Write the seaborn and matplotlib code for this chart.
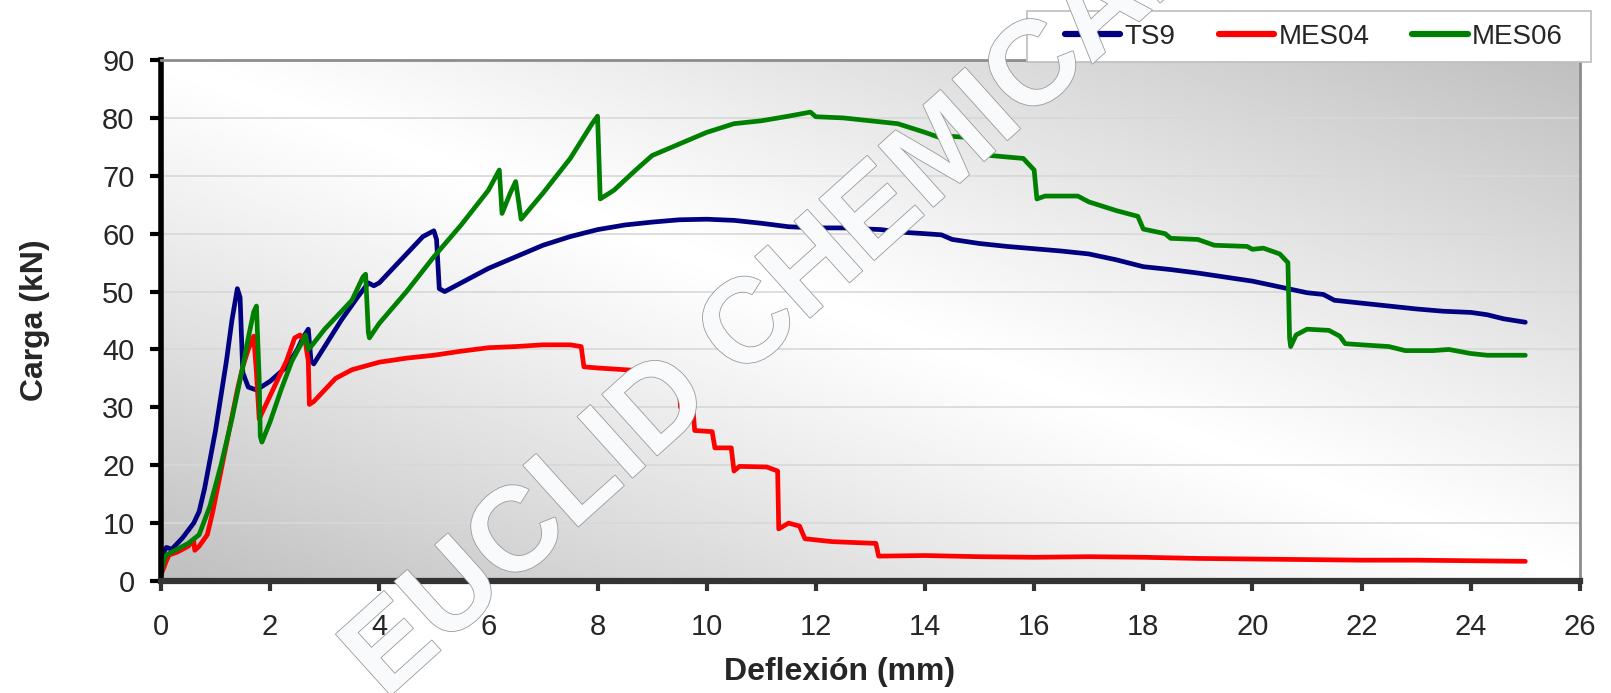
import numpy as np
import pandas as pd
import matplotlib
matplotlib.use("Agg")
import matplotlib.pyplot as plt
import matplotlib.patheffects as pe
from matplotlib.patches import Rectangle
import seaborn as sns

# ---------------- data ----------------
ts9_x = [0, 0.05, 0.1, 0.2, 0.4, 0.6, 0.7, 0.8, 0.9, 1.0, 1.1, 1.2, 1.3, 1.4, 1.45, 1.5, 1.6, 1.75,
         2.0, 2.3, 2.5, 2.6, 2.7, 2.75, 2.8, 3.0, 3.3, 3.6, 3.8, 3.9, 4.0, 4.2, 4.5, 4.8, 5.0, 5.05,
         5.1, 5.2, 5.5, 6.0, 6.5, 7.0, 7.5, 8.0, 8.5, 9.0, 9.5, 10.0, 10.5, 11.0, 11.5, 12.0, 12.5,
         13.2, 13.5, 14.0, 14.3, 14.5, 15.0, 15.5, 16.0, 16.5, 17.0, 17.5, 18.0, 18.5, 19.0, 19.5,
         20.0, 20.5, 21.0, 21.3, 21.5, 22.0, 22.5, 23.0, 23.5, 24.0, 24.3, 24.6, 25.0]
ts9_y = [1, 5, 5.8, 5.5, 7.5, 10, 12, 16, 21, 26, 32, 38, 45, 50.5, 49, 36, 33.5, 33,
         34.5, 37, 40, 42, 43.5, 38, 37.5, 40.5, 45, 49, 51.5, 51, 51.5, 53.5, 56.5, 59.5, 60.5, 59,
         50.5, 50, 51.5, 54, 56, 58, 59.5, 60.7, 61.5, 62, 62.4, 62.5, 62.3, 61.8, 61.2, 61, 61,
         60.7, 60.3, 60, 59.8, 59, 58.3, 57.8, 57.4, 57, 56.5, 55.5, 54.3, 53.8, 53.2, 52.5,
         51.8, 50.8, 49.8, 49.5, 48.5, 48, 47.5, 47, 46.6, 46.4, 46, 45.3, 44.7]

mes04_x = [0, 0.1, 0.15, 0.3, 0.5, 0.6, 0.62, 0.7, 0.85, 0.95, 1.1, 1.25, 1.4, 1.5, 1.6, 1.7, 1.75,
           1.8, 1.9, 2.1, 2.3, 2.45, 2.55, 2.65, 2.7, 2.72, 2.8, 3.0, 3.2, 3.5, 4.0, 4.5, 5.0, 5.5,
           6.0, 6.5, 7.0, 7.5, 7.7, 7.75, 8.0, 8.5, 9.0, 9.2, 9.45, 9.5, 9.52, 9.75, 9.78, 10.1,
           10.15, 10.45, 10.5, 10.6, 11.1, 11.3, 11.32, 11.5, 11.7, 11.8, 12.3, 13.1, 13.15, 14, 15,
           16, 17, 18, 19, 20, 21, 22, 23, 24, 25]
mes04_y = [1, 3.5, 4.5, 5, 6, 7, 5.3, 6, 8, 12, 19, 26, 33, 37, 40, 42.3, 36,
           28, 30, 34, 38, 42, 42.5, 41, 38, 30.5, 31, 33, 35, 36.5, 37.8, 38.5, 39, 39.7,
           40.3, 40.5, 40.8, 40.8, 40.5, 37, 36.8, 36.5, 36.2, 35.5, 34.5, 33, 30, 29.5, 26, 25.8,
           23, 23, 19, 19.8, 19.7, 19, 9, 10, 9.5, 7.3, 6.8, 6.5, 4.3, 4.4, 4.2,
           4.1, 4.2, 4.1, 3.9, 3.8, 3.7, 3.6, 3.6, 3.5, 3.4]

mes06_x = [0, 0.05, 0.1, 0.3, 0.5, 0.7, 0.9, 1.1, 1.3, 1.5, 1.6, 1.7, 1.75, 1.8, 1.82, 1.85, 2.0,
           2.2, 2.4, 2.6, 2.65, 2.7, 2.75, 3.0, 3.3, 3.5, 3.7, 3.75, 3.8, 3.82, 4.0, 4.5, 5.0, 5.5,
           6.0, 6.2, 6.25, 6.4, 6.5, 6.6, 7.0, 7.5, 7.9, 8.0, 8.05, 8.3, 8.7, 9.0, 9.5, 10.0, 10.5,
           11.0, 11.5, 11.9, 12.0, 12.5, 13.0, 13.5, 14.0, 14.3, 14.5, 15.0, 15.2, 15.8, 16.0, 16.05,
           16.2, 16.8, 17.0, 17.5, 17.9, 18.0, 18.4, 18.5, 19.0, 19.3, 19.9, 20.0, 20.2, 20.5, 20.65,
           20.68, 20.7, 20.8, 21.0, 21.4, 21.6, 21.7, 22.0, 22.5, 22.8, 23.3, 23.6, 24.0, 24.3, 25.0]
mes06_y = [1, 3.5, 4.5, 5.5, 6.5, 8, 13, 20, 28, 37, 42, 46.5, 47.5, 35, 25, 24, 27.5,
           33, 38, 41.5, 42.5, 40, 40.5, 43.5, 46.5, 48.5, 52.5, 53, 43, 42, 44.5, 50, 56, 61.5,
           67.5, 71, 63.5, 67, 69, 62.5, 67, 73, 79, 80.3, 66, 67.5, 71, 73.5, 75.5, 77.5, 79,
           79.5, 80.3, 81, 80.2, 80, 79.5, 79, 77.5, 76.5, 76.8, 76.5, 73.5, 73, 71, 66,
           66.5, 66.5, 65.5, 64, 63, 60.8, 60, 59.2, 59, 58, 57.8, 57.3, 57.5, 56.5, 55,
           42, 40.5, 42.5, 43.5, 43.3, 42.3, 41, 40.8, 40.5, 39.8, 39.8, 40, 39.3, 39, 39]

series_names = ["TS9", "MES04", "MES06"]
series_colors = ["#000080", "#FF0000", "#008000"]
x_ticks = list(range(0, 27, 2))
y_ticks = list(range(0, 91, 10))
x_label = "Deflexión (mm)"
y_label = "Carga (kN)"
watermark = "EUCLID CHEMICAL"

# ---------------- figure ----------------
sns.set_theme(style="white")
plt.rcParams["font.family"] = ["Liberation Sans", "DejaVu Sans"]

fig = plt.figure(figsize=(16.11, 6.93), dpi=100)
ax = fig.add_axes([0.0999, 0.1616, 0.8808, 0.7518])

# background gradient (gray corners bottom-left / top-right, white diagonal)
gu, gv = np.meshgrid(np.linspace(0, 1, 400), np.linspace(0, 1, 200))
s = np.abs(gu + gv - 1.0)
val = 1.0 - 0.25 * s ** 1.1
ax.imshow(val, extent=(0, 1, 0, 1), transform=ax.transAxes, origin="lower",
          cmap="gray", vmin=0, vmax=1, aspect="auto", zorder=0, interpolation="bilinear")

frames = []
for name, xs, ys in zip(series_names, [ts9_x, mes04_x, mes06_x], [ts9_y, mes04_y, mes06_y]):
    frames.append(pd.DataFrame({"x": xs, "y": ys, "serie": name}))
df = pd.concat(frames, ignore_index=True)

sns.lineplot(data=df, x="x", y="y", hue="serie", hue_order=series_names,
             palette=series_colors, sort=False, estimator=None, linewidth=3.4,
             ax=ax, legend=False, zorder=3)

ax.set_xlim(0, 26)
ax.set_ylim(0, 90)
ax.set_xticks(x_ticks)
ax.set_yticks(y_ticks)
ax.set_xticklabels([str(t) for t in x_ticks], fontsize=21)
ax.set_yticklabels([str(t) for t in y_ticks], fontsize=21)
ax.yaxis.grid(True, color="#d8d8d8", linewidth=1.2, zorder=1)
ax.xaxis.grid(False)

ax.tick_params(axis="y", direction="out", length=8, width=3, color="black", pad=11, left=True)
ax.tick_params(axis="x", direction="out", length=7, width=3, color="#333333", pad=16, bottom=True)

ax.spines["left"].set_color("black")
ax.spines["left"].set_linewidth(4)
ax.spines["bottom"].set_color("#333333")
ax.spines["bottom"].set_linewidth(4.5)
ax.spines["top"].set_color("#8c8c8c")
ax.spines["top"].set_linewidth(2)
ax.spines["right"].set_color("#8c8c8c")
ax.spines["right"].set_linewidth(2)
for sp in ax.spines.values():
    sp.set_zorder(4)

ax.set_xlabel(x_label, fontsize=23, fontweight="bold")
ax.set_ylabel(y_label, fontsize=23, fontweight="bold")
ax.xaxis.set_label_coords(0.478, -0.146)
ax.yaxis.set_label_coords(-0.078, 0.5)

# legend box + entries
W, H = 1611.0, 693.0
frame = Rectangle((1027 / W, 1 - 62 / H), 564 / W, 51 / H, transform=fig.transFigure,
                  facecolor="white", edgecolor="#bdbdbd", linewidth=1.2, zorder=4)
fig.patches.append(frame)
handles = [plt.Line2D([], [], color=c, linewidth=4.5, solid_capstyle="round") for c in series_colors]
leg = fig.legend(handles, series_names, loc="center", bbox_to_anchor=(1314 / W, 1 - 36.5 / H),
                 ncol=3, fontsize=20, frameon=False, handlelength=2.0, handletextpad=0.15,
                 columnspacing=1.55, borderpad=0.0, borderaxespad=0.0)
leg.set_zorder(5)

# watermark
fig.text(0.482, 0.557, watermark, fontsize=86, fontweight="bold", color="#f9fafc", rotation=42,
         ha="center", va="center", zorder=10,
         path_effects=[pe.withStroke(linewidth=1.2, foreground="#9a9a9a")])

fig.savefig("out.png", dpi=100)
